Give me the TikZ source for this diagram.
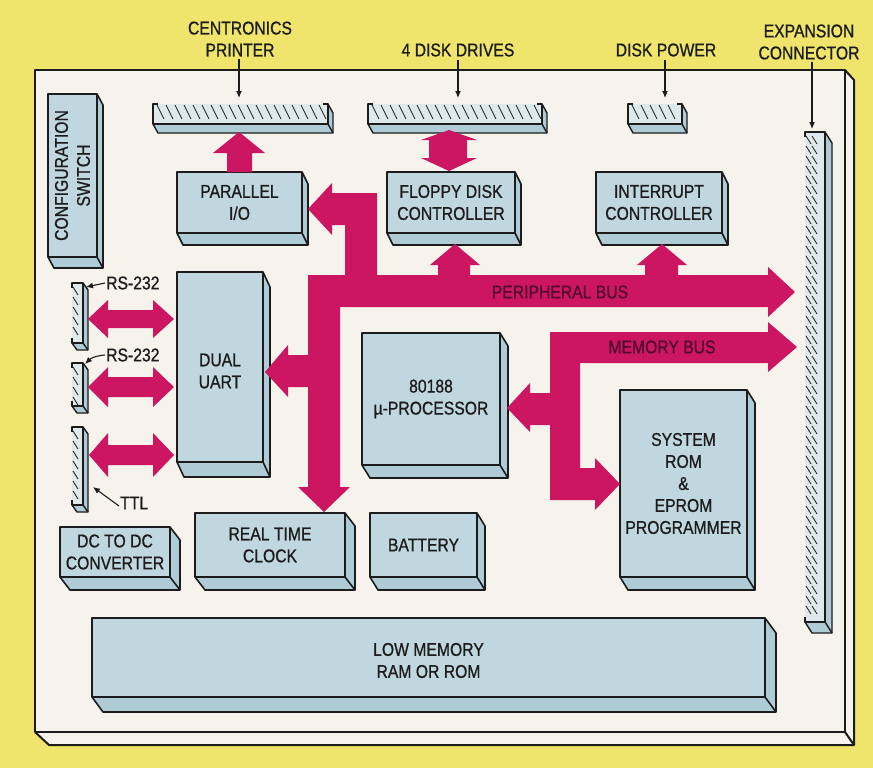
\documentclass[tikz,border=0pt]{standalone}
\usepackage{fontspec}
\setmainfont{Liberation Sans}[FakeStretch=0.85,FakeBold=0.8]
\usetikzlibrary{arrows.meta}
\definecolor{bg}{RGB}{240,229,108}
\definecolor{board}{RGB}{245,243,236}
\definecolor{bfront}{RGB}{193,215,223}
\definecolor{bside}{RGB}{174,203,214}
\definecolor{cfront}{RGB}{222,233,236}
\definecolor{bus}{RGB}{204,22,98}
\definecolor{buslbl}{RGB}{80,10,44}
\definecolor{ink}{RGB}{28,28,28}
\tikzset{
  edge/.style={draw=ink, line width=1.6pt, line join=round},
  lbl/.style={font=\fontsize{18.5}{22}\selectfont, text=ink, align=center, inner sep=0pt},
  buslabel/.style={font=\fontsize{18.5}{22}\selectfont, text=buslbl, inner sep=0pt},
  hatch/.style={draw=ink, line width=0.8pt},
  pointer/.style={draw=ink, line width=1.1pt, -{Latex[length=7pt,width=6pt]}},
  busfill/.style={fill=bus},
}
% 3D block: name, x1, y1, x2, y2, dx, dy, text, node options
\newcommand{\blkbox}[9]{%
  \fill[bside] (#4,#3) -- ++(#6,#7) -- ({#4+#6},{#5+#7}) -- ({#2+#6},{#5+#7}) -- (#2,#5) -- cycle;
  \draw[edge] (#4,#3) -- ++(#6,#7) -- ({#4+#6},{#5+#7}) -- ({#2+#6},{#5+#7}) -- (#2,#5);
  \draw[edge] (#4,#5) -- ++(#6,#7);
  \draw[edge,fill=bfront] (#2,#3) rectangle (#4,#5);
  \node[lbl,#9] (#1) at ({(#2+#4)/2},{(#3+#5)/2}) {#8};
}
% horizontal hatched connector: x1, y1, x2, y2
\newcommand{\connH}[4]{%
  \fill[bside] (#3,#2) -- ++(5,9) -- ({#3+5},{#4+9}) -- ({#1+5},{#4+9}) -- (#1,#4) -- cycle;
  \fill[cfront] (#1,#2) rectangle (#3,#4);
  \pgfmathtruncatemacro{\nh}{(#3-#1-12)/9}
  \foreach \k in {0,...,\nh}{\draw[hatch] ({#1+4+9*\k},{#2+1}) -- ++(7,14);}
  \draw[edge,line width=1.4pt] ({#1+5},#2) -- (#1,#2) -- (#1,#4) -- (#3,#4) -- (#3,#2) -- ({#3-5},#2);
  \draw[edge,line width=1.4pt] (#3,#2) -- ++(5,9) -- ({#3+5},{#4+9}) -- ({#1+5},{#4+9}) -- (#1,#4);
  \draw[edge,line width=1.4pt] (#3,#4) -- ++(5,9);
}
% vertical hatched connector: x1, y1, x2, y2, dx, dy
\newcommand{\connV}[6]{%
  \fill[bside] (#3,#2) -- ++(#5,#6) -- ({#3+#5},{#4+#6}) -- ({#1+#5},{#4+#6}) -- (#1,#4) -- cycle;
  \fill[cfront] (#1,#2) rectangle (#3,#4);
  \pgfmathtruncatemacro{\nv}{(#4-#2-12)/10}
  \foreach \k in {0,...,\nv}{\draw[hatch] ({#1+1},{#2+4+10*\k}) -- ++(5,8);}
  \draw[edge,line width=1.4pt] (#1,{#2+5}) -- (#1,#2) -- (#3,#2) -- (#3,#4) -- (#1,#4) -- (#1,{#4-5});
  \draw[edge,line width=1.4pt] (#3,#2) -- ++(#5,#6) -- ({#3+#5},{#4+#6}) -- ({#1+#5},{#4+#6}) -- (#1,#4);
  \draw[edge,line width=1.4pt] (#3,#4) -- ++(#5,#6);
}
\begin{document}
\begin{tikzpicture}[x=1pt,y=-1pt]
\useasboundingbox (0,0) rectangle (873,768);
\fill[bg] (0,0) rectangle (873,768);
% board
\fill[board] (845,70) -- (854,80) -- (854,745) -- (49,745) -- (35,732) -- (35,70) -- cycle;
\draw[edge,line width=2pt] (845,70) -- (854,80) -- (854,745) -- (49,745) -- (35,732);
\draw[edge,line width=2pt] (845,732) -- (854,745);
\draw[edge,line width=2pt] (35,70) rectangle (845,732);

% blocks
\blkbox{cfg}{48}{94}{97}{257}{6}{11}{CONFIGURATION\\SWITCH}{rotate=90}
\blkbox{par}{177}{172}{302}{233}{6}{12}{PARALLEL\\I/O}{}
\blkbox{fdc}{387}{172}{515}{233}{6}{12}{FLOPPY DISK\\CONTROLLER}{}
\blkbox{irq}{596}{172}{722}{233}{6}{12}{INTERRUPT\\CONTROLLER}{}
\blkbox{uart}{177}{272}{263}{462}{7}{15}{DUAL\\UART}{yshift=-4pt}
\blkbox{cpu}{362}{333}{500}{465}{8}{13}{80188\\µ-PROCESSOR}{}
\blkbox{rom}{620}{390}{747}{577}{8}{13}{SYSTEM\\ROM\\\&\\EPROM\\PROGRAMMER}{}
\blkbox{dcdc}{60}{527}{170}{577}{10}{13}{DC TO DC\\CONVERTER}{}
\blkbox{rtc}{195}{513}{345}{577}{10}{13}{REAL TIME\\CLOCK}{}
\blkbox{bat}{370}{513}{477}{577}{8}{13}{BATTERY}{}
\blkbox{lowmem}{92}{618}{765}{697}{11}{15}{LOW MEMORY\\RAM OR ROM}{yshift=-3pt}

% connectors
\connH{153}{104}{328}{124}
\connH{368}{104}{542}{124}
\connH{628}{104}{682}{124}
\connV{805}{132}{825}{622}{7}{11}
\foreach \k in {0,...,47}{\draw[hatch] (812,{136+10*\k}) -- ++(5,8);}
\connV{72}{283}{83}{343}{5}{7}
\connV{72}{363}{83}{406}{5}{7}
\connV{72}{427}{83}{505}{5}{7}

% peripheral bus
\fill[busfill] (308,209) -- (332,183) -- (332,193) -- (377,193) -- (377,275)
  -- (438,275) -- (438,265) -- (430,265) -- (455,244) -- (480,265) -- (470,265) -- (470,275)
  -- (645,275) -- (645,265) -- (637,265) -- (662,244) -- (687,265) -- (678,265) -- (678,275)
  -- (768,275) -- (768,267) -- (795,292) -- (768,317) -- (768,307)
  -- (340,307) -- (340,487) -- (350,487) -- (324,512) -- (298,487) -- (308,487)
  -- (308,387) -- (288,387) -- (288,397) -- (265,372) -- (288,345) -- (288,355) -- (308,355)
  -- (308,275) -- (345,275) -- (345,225) -- (332,225) -- (332,235) -- cycle;
% memory bus
\fill[busfill] (550,332) -- (768,332) -- (768,322) -- (797,347) -- (768,372) -- (768,363)
  -- (580,363) -- (580,468) -- (595,468) -- (595,458) -- (620,484) -- (595,510) -- (595,500)
  -- (550,500) -- (550,425) -- (530,425) -- (530,432) -- (507,408) -- (530,383) -- (530,393)
  -- (550,393) -- cycle;
% printer arrow
\fill[busfill] (227,172) -- (227,153) -- (213,153) -- (239,132) -- (265,153) -- (252,153) -- (252,172) -- cycle;
% floppy double arrow
\fill[busfill] (429,158) -- (429,140) -- (421,140) -- (449,130) -- (477,140) -- (467,140)
  -- (467,158) -- (477,158) -- (449,171) -- (421,158) -- cycle;
% UART double arrows
\fill[busfill] (88,319) -- (108,300) -- (108,310) -- (153,310) -- (153,300) -- (174,319)
  -- (153,338) -- (153,328) -- (108,328) -- (108,338) -- cycle;
\fill[busfill] (88,387) -- (108,367) -- (108,377) -- (153,377) -- (153,367) -- (174,387)
  -- (153,407) -- (153,397) -- (108,397) -- (108,407) -- cycle;
\fill[busfill] (89,455) -- (108,433) -- (108,445) -- (153,445) -- (153,433) -- (174,455)
  -- (153,477) -- (153,465) -- (108,465) -- (108,477) -- cycle;

\node[buslabel] (pbl) at (560,292) {PERIPHERAL BUS};
\node[buslabel] (mbl) at (662,347) {MEMORY BUS};

% outside labels
\node[lbl] (lcen) at (240,39) {CENTRONICS\\PRINTER};
\node[lbl] (ldsk) at (458,50) {4 DISK DRIVES};
\node[lbl] (lpow) at (666,50) {DISK POWER};
\node[lbl] (lexp) at (809,42) {EXPANSION\\CONNECTOR};
\coordinate (cenbar) at (239,98);
\coordinate (dskbar) at (458,98);
\coordinate (powbar) at (665,98);
\coordinate (expbar) at (812,129);
\draw[pointer] ([yshift=-2pt]lcen.south -| cenbar) -- (cenbar);
\draw[pointer] ([yshift=-3pt]ldsk.south -| dskbar) -- (dskbar);
\draw[pointer] ([yshift=-3pt]lpow.south -| powbar) -- (powbar);
\draw[pointer] ([yshift=-2pt]lexp.south -| expbar) -- (expbar);

\node[lbl,anchor=west] (lrs1) at (106,283) {RS-232};
\node[lbl,anchor=west] (lrs2) at (106,355) {RS-232};
\node[lbl,anchor=west] (lttl) at (120,503) {TTL};
\coordinate (rs1tip) at (86,287);
\coordinate (rs2tip) at (85,364);
\coordinate (ttltip) at (93,487);
\draw[pointer] ([xshift=-1pt]lrs1.west) -- (rs1tip);
\draw[pointer] ([xshift=-1pt]lrs2.west) to[bend right=20] (rs2tip);
\draw[pointer] ([xshift=-1pt,yshift=-3pt]lttl.west) -- (ttltip);
\end{tikzpicture}
\end{document}
